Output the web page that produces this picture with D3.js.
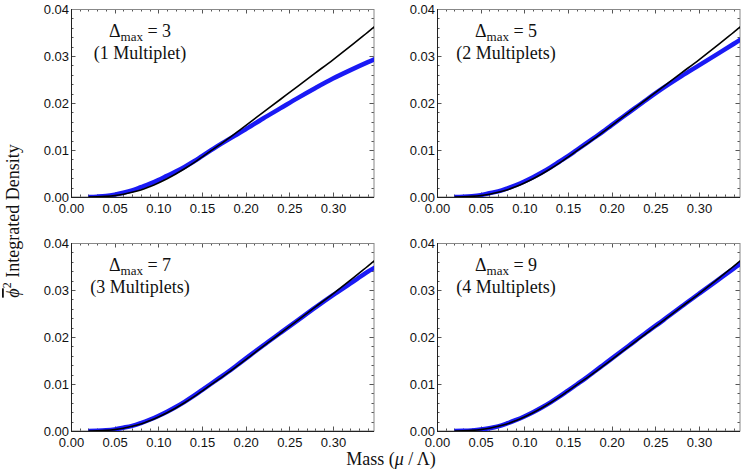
<!DOCTYPE html>
<html>
<head>
<meta charset="utf-8">
<script src="https://cdn.jsdelivr.net/npm/d3@7"></script>
<style>
html,body{margin:0;padding:0;background:#fff;}
svg{display:block;}
</style>
</head>
<body>
<svg id="chart" width="747" height="471"></svg>
<script>
// ---- data ----
const massValues = [0.02,0.03,0.04,0.05,0.06,0.07,0.08,0.09,0.10,0.11,0.12,0.13,0.14,0.15,0.16,0.17,0.18,0.19,0.20,0.22,0.24,0.26,0.28,0.30,0.32,0.34,0.35];
const exactDensity = [0,0.00004,0.00013,0.0003,0.0006,0.0010,0.0015,0.0022,0.0030,0.0039,0.0049,0.0060,0.0072,0.0085,0.0098,0.0111,0.0124,0.0138,0.0152,0.0180,0.0208,0.0236,0.0264,0.0292,0.0321,0.0351,0.0366];
const densityDelta3 = [0,0.00008,0.00022,0.0005,0.0009,0.0014,0.0021,0.0028,0.0036,0.0045,0.0054,0.0064,0.0075,0.0087,0.0099,0.0111,0.0122,0.0133,0.0144,0.0167,0.0189,0.0211,0.0232,0.0252,0.0270,0.0287,0.0295];
const densityDelta5 = [0,0.00006,0.00018,0.0004,0.0008,0.0012,0.0018,0.0025,0.0033,0.0042,0.0052,0.0063,0.0075,0.0087,0.0100,0.0113,0.0126,0.0139,0.0153,0.0180,0.0207,0.0233,0.0257,0.0280,0.0303,0.0326,0.0338];
const densityDelta7 = [0,0.00005,0.00015,0.00035,0.0007,0.0011,0.0017,0.0024,0.0032,0.0041,0.0051,0.0062,0.0074,0.0087,0.0100,0.0113,0.0126,0.0140,0.0154,0.0182,0.0209,0.0236,0.0263,0.0289,0.0314,0.0339,0.0350];
const densityDelta9 = [0,0.00004,0.00013,0.0003,0.0006,0.0010,0.0016,0.0023,0.0031,0.0040,0.0050,0.0061,0.0073,0.0086,0.0099,0.0112,0.0126,0.0140,0.0154,0.0182,0.0210,0.0237,0.0265,0.0292,0.0319,0.0346,0.0359];
const deltaMax = ["3","5","7","9"];
const multipletLabels = ["(1 Multiplet)","(2 Multiplets)","(3 Multiplets)","(4 Multiplets)"];
const xTickValues = [0,0.05,0.10,0.15,0.20,0.25,0.30];
const xMinorTicks = d3.range(0,35).map(i=>i/100);
const yTickValues = [0,0.01,0.02,0.03,0.04];
const yMinorTicks = d3.range(0,21).map(i=>i*0.002);

const series = [densityDelta3, densityDelta5, densityDelta7, densityDelta9];

// ---- layout ----
const svg = d3.select("#chart");
const panelW = 303, panelH = 188;
const panelPos = [[71,9],[437,9],[71,243],[437,243]];
const serif = "'Liberation Serif','Times New Roman',serif";
const sans = "'Liberation Sans',Arial,sans-serif";

const x = d3.scaleLinear().domain([0,0.347]).range([0,panelW]);
const y = d3.scaleLinear().domain([0,0.04]).range([panelH,0]);

const defs = svg.append("defs");
defs.append("clipPath").attr("id","clip").append("rect").attr("width",panelW).attr("height",panelH);

const line = d3.line().x(d=>x(d[0])).y(d=>y(d[1])).curve(d3.curveCatmullRom.alpha(0.5));

series.forEach((s,i)=>{
  const g = svg.append("g").attr("transform",`translate(${panelPos[i][0]},${panelPos[i][1]})`);
  const tickColor = "#555";
  const tk = g.append("g").attr("stroke",tickColor).attr("stroke-width",1);
  xMinorTicks.forEach(v=>{
    const isMajor = xTickValues.some(t=>Math.abs(t-v)<1e-9);
    const L = isMajor?4.5:2.5;
    const px = Math.round(x(v))+0.5;
    tk.append("line").attr("x1",px).attr("x2",px).attr("y1",panelH).attr("y2",panelH-L);
    tk.append("line").attr("x1",px).attr("x2",px).attr("y1",0).attr("y2",L);
  });
  yMinorTicks.forEach(v=>{
    const isMajor = yTickValues.some(t=>Math.abs(t-v)<1e-9);
    const L = isMajor?4.5:2.5;
    const py = Math.round(y(v))+0.5;
    tk.append("line").attr("x1",0).attr("x2",L).attr("y1",py).attr("y2",py);
    tk.append("line").attr("x1",panelW).attr("x2",panelW-L).attr("y1",py).attr("y2",py);
  });
  g.append("rect").attr("x",0.5).attr("y",0.5).attr("width",panelW-0.5).attr("height",panelH-0.5)
    .attr("fill","none").attr("stroke","#888").attr("stroke-width",1);
  g.append("line").attr("x1",0.5).attr("x2",0.5).attr("y1",0).attr("y2",panelH).attr("stroke","#222");
  g.append("line").attr("x1",0).attr("x2",panelW).attr("y1",panelH+0.5).attr("y2",panelH+0.5).attr("stroke","#222");

  const xa = g.append("g").attr("transform",`translate(0,${panelH})`)
    .call(d3.axisBottom(x).tickValues(xTickValues).tickFormat(d3.format(".2f")).tickSize(0).tickPadding(7));
  const ya = g.append("g")
    .call(d3.axisLeft(y).tickValues(yTickValues).tickFormat(d3.format(".2f")).tickSize(0).tickPadding(2));
  [xa,ya].forEach(a=>{
    a.select(".domain").remove();
    a.selectAll("text").attr("font-family",sans).attr("font-size",13).attr("fill","#111");
  });

  const pc = g.append("g").attr("clip-path","url(#clip)");
  pc.append("path").datum(massValues.map((m,k)=>[m,s[k]]))
    .attr("d",line).attr("fill","none").attr("stroke","#1a1af5").attr("stroke-width",4.5);
  pc.append("path").datum(massValues.map((m,k)=>[m,exactDensity[k]]))
    .attr("d",line).attr("fill","none").attr("stroke","#000").attr("stroke-width",1.6);

  const ann = g.append("text").attr("x",69).attr("y",28).attr("text-anchor","middle")
    .attr("font-family",serif).attr("font-size",18).attr("fill","#111");
  ann.append("tspan").text("\u0394");
  ann.append("tspan").attr("font-size",13).attr("dy",4).text("max");
  ann.append("tspan").attr("dy",-4).text(" = "+deltaMax[i]);
  g.append("text").attr("x",69).attr("y",50).attr("text-anchor","middle")
    .attr("font-family",serif).attr("font-size",18).attr("fill","#111")
    .text(multipletLabels[i]);
});

// axis titles
const xt = svg.append("text").attr("x",391).attr("y",465).attr("text-anchor","middle")
  .attr("font-family",serif).attr("font-size",18).attr("fill","#111");
xt.append("tspan").text("Mass (");
xt.append("tspan").attr("font-style","italic").text("\u03BC");
xt.append("tspan").text(" / \u039B)");

const yt = svg.append("text").attr("transform","translate(19,221) rotate(-90)").attr("text-anchor","middle")
  .attr("font-family",serif).attr("font-size",18).attr("fill","#111");
yt.append("tspan").attr("font-style","italic").attr("text-decoration","overline").text("\u03D5");
yt.append("tspan").attr("font-size",12).attr("dy",-8).text("2");
yt.append("tspan").attr("dy",8).text(" Integrated Density");
</script>
</body>
</html>
